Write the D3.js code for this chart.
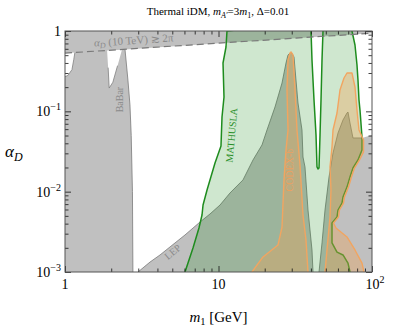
<!DOCTYPE html>
<html>
<head>
<meta charset="utf-8">
<script src="https://cdn.jsdelivr.net/npm/d3@7"></script>
<style>
body { margin: 0; background: #fff; }
svg text { font-family: "Liberation Serif", "DejaVu Serif", serif; }
</style>
</head>
<body>
<div id="vis"></div>
<script>
// ---- data (m1 in GeV, alpha_D) ----
const xMajor = [1, 10, 100];
const xLabels = [['1', ''], ['10', ''], ['10', '2']];
const yMajor = [1, 0.1, 0.01, 0.001];
const yLabels = [['1', ''], ['10', '\u22121'], ['10', '\u22122'], ['10', '\u22123']];

// alpha_D(10 TeV) >= 2pi (dashed)
const pertM = [1, 100];
const pertA = [0.53, 0.94];

// BaBar edge, top to bottom
const babarM = [2.46, 2.57, 2.65, 2.7, 2.75, 2.77];
const babarA = [0.59, 0.245, 0.12, 0.05, 0.01, 0.001];

// small allowed gaps inside BaBar
const notch1M = [1, 1.16, 1.14, 1.11, 1.045, 1];
const notch1A = [0.53, 0.54, 0.44, 0.33, 0.28, 0.27];
const notch2M = [1.88, 1.91, 1.94, 2.05, 2.2, 2.35];
const notch2A = [0.57, 0.35, 0.195, 0.23, 0.37, 0.585];

// LEP + resonance peak edge, left to right
const lepM = [2.99, 3.58, 4.16, 4.83, 6.05, 7.58, 8.8, 10.23, 11.88, 14.44, 16.78, 19.2, 20.7, 23.34, 25.93, 27.53, 28.37, 29.68, 31.04, 31.98, 32.95, 34.99, 35.52, 36.6, 38.29, 40.65, 41.27];
const lepA = [0.001, 0.00133, 0.00163, 0.00205, 0.00289, 0.00419, 0.00527, 0.00682, 0.00962, 0.014, 0.0248, 0.0381, 0.0586, 0.1132, 0.2253, 0.3996, 0.503, 0.548, 0.4746, 0.2455, 0.127, 0.0586, 0.027, 0.0203, 0.00591, 0.00188, 0.001];

// right excluded region edge, left to right
const rightM = [45.16, 47.24, 49.41, 52.48, 55.71, 60.05, 64.72, 68.71, 69.75, 71.88, 75.18, 86.07, 100];
const rightA = [0.001, 0.0023, 0.00591, 0.0152, 0.0303, 0.0537, 0.078, 0.0953, 0.0981, 0.0716, 0.0466, 0.0466, 0.0507];

// MATHUSLA reach
const mathM = [11.36, 11.19, 10.7, 10.86, 10.54, 10.38, 9.49, 8.42, 7.93, 7.81, 7.46, 6.82, 6.05, 6.0,
  72.5, 71.88, 69.75, 64.72, 59.16, 54.88, 54.88, 59.16, 60.05, 63.75, 64.72, 68.71, 71.88, 75.18, 81.04, 86.07, 86.07, 83.51, 82.27, 81.04, 79.84, 77.48, 74.06, 73.2,
  48.2, 47.95, 47.24, 46.54, 45.85, 45.16, 44.49, 43.83, 43.18, 41.9, 40.65, 40.06, 39.9];
const mathA = [1, 0.632, 0.3996, 0.1508, 0.085, 0.037, 0.0227, 0.0105, 0.00682, 0.00512, 0.00353, 0.00199, 0.001, 0.0008,
  0.0008, 0.001, 0.00129, 0.00163, 0.00177, 0.0023, 0.00407, 0.00484, 0.00591, 0.00722, 0.00858, 0.0114, 0.0152, 0.0197, 0.0248, 0.033, 0.0479, 0.1039, 0.1384, 0.2455, 0.3773, 0.669, 1, 1.3,
  1.3, 1, 0.4355, 0.1384, 0.0507, 0.0197, 0.0192, 0.0203, 0.0507, 0.1384, 0.4355, 1, 1.3];

// CODEX-b reach, two pieces
const codexLM = [16.0, 16.53, 19.5, 24.42, 25.93, 26.71, 27.53, 28.37, 27.94, 28.37, 29.23, 29.68, 30.58, 31.51, 32.46, 33.96, 35.52, 37.15, 38.29, 38.6];
const codexLA = [0.0008, 0.001, 0.00154, 0.00217, 0.00363, 0.014, 0.033, 0.0586, 0.1843, 0.4355, 0.532, 0.548, 0.503, 0.1843, 0.0586, 0.0215, 0.00512, 0.0025, 0.001, 0.0008];
const codexRM = [49.2, 49.41, 50.91, 53.26, 54.06, 53.26, 54.88, 55.71, 59.16, 61.87, 65.7, 68.71, 74.06, 77.48, 79.84, 82.27, 88.08, 88.08, 82.9, 76.9, 73.5, 70.3, 66.2, 65.2, 61.4, 60.5, 56.1, 58.28, 68.71, 77.48, 86.07, 88.69, 89.5];
const codexRA = [0.0008, 0.001, 0.00188, 0.00484, 0.0105, 0.0203, 0.036, 0.0586, 0.0953, 0.1843, 0.26, 0.3, 0.3, 0.2009, 0.1039, 0.0586, 0.044, 0.0312, 0.0248, 0.0197, 0.0152, 0.0114, 0.00858, 0.00722, 0.00591, 0.00484, 0.00407, 0.00353, 0.00273, 0.00188, 0.00129, 0.001, 0.0008];

// ---- layout ----
const margin = {top: 31, right: 27, bottom: 55, left: 65};
const width = 399 - margin.left - margin.right;
const height = 327 - margin.top - margin.bottom;

const svgRoot = d3.select('#vis').append('svg')
  .attr('width', 399).attr('height', 327);
const svg = svgRoot.append('g')
  .attr('transform', `translate(${margin.left},${margin.top})`);

const x = d3.scaleLog().domain([1, 100]).range([0, width]);
const y = d3.scaleLog().domain([0.001, 1]).range([height, 0]);

const pts = (ms, as) => ms.map((m, i) => [m, as[i]]);
const line = d3.line().x(d => x(d[0])).y(d => y(d[1]));
const area = arr => line(arr) + 'Z';

svg.append('clipPath').attr('id', 'clip')
  .append('rect').attr('width', width).attr('height', height);
const plot = svg.append('g').attr('clip-path', 'url(#clip)');

// excluded background
plot.append('rect').attr('width', width).attr('height', height).attr('fill', '#c0c0c0');

// allowed (white) region
const pert = pts(pertM, pertA);
const babar = pts(babarM, babarA);
const lep = pts(lepM, lepA);
const right = pts(rightM, rightA);
const allowed = [babar[0], pert[1]]
  .concat(right.slice().reverse())
  .concat(lep.slice().reverse())
  .concat(babar.slice().reverse());
plot.append('path').attr('d', area(allowed)).attr('fill', '#fff');
[pts(notch1M, notch1A), pts(notch2M, notch2A)].forEach(n => {
  plot.append('path').attr('d', area(n)).attr('fill', '#fff');
  plot.append('path').attr('d', line(n.slice(1, n.length - (n[0][0] === 1 ? 0 : 1))))
    .attr('fill', 'none').attr('stroke', '#808080').attr('stroke-width', 0.8);
});
[babar, lep, right.slice(0, -1)].forEach(e => {
  plot.append('path').attr('d', line(e))
    .attr('fill', 'none').attr('stroke', '#7a7a7a').attr('stroke-width', 0.8);
});

// MATHUSLA
plot.append('path').attr('d', area(pts(mathM, mathA)))
  .attr('fill', '#008000').attr('fill-opacity', 0.19)
  .attr('stroke', '#1e8c1e').attr('stroke-width', 1.5).attr('stroke-linejoin', 'round');

// CODEX-b
[pts(codexLM, codexLA), pts(codexRM, codexRA)].forEach(c => {
  plot.append('path').attr('d', area(c))
    .attr('fill', '#f0a050').attr('fill-opacity', 0.35)
    .attr('stroke', '#f2a560').attr('stroke-width', 1.4).attr('stroke-linejoin', 'round');
});

// perturbativity dashed line
plot.append('path').attr('d', line(pert))
  .attr('fill', 'none').attr('stroke', '#7a7a7a').attr('stroke-width', 1.2)
  .attr('stroke-dasharray', '7,4');

// ---- region labels ----
const ang = Math.atan2(y(pertA[1]) - y(pertA[0]), x(pertM[1]) - x(pertM[0])) * 180 / Math.PI;
const pl = svg.append('text')
  .attr('transform', `translate(${x(1.55)},${y(0.64)}) rotate(${ang})`)
  .attr('fill', '#8a8a8a').attr('font-size', 11);
pl.append('tspan').attr('font-style', 'italic').text('\u03b1');
pl.append('tspan').attr('font-style', 'italic').attr('font-size', 8).attr('dy', 2).text('D');
pl.append('tspan').attr('dy', -2).text(' (10 TeV) \u2273 2\u03c0');

svg.append('text')
  .attr('transform', `translate(${x(2.38)},${y(0.14)}) rotate(-90)`)
  .attr('text-anchor', 'middle').attr('fill', '#8a8a8a').attr('font-size', 10)
  .text('BaBar');

svg.append('text')
  .attr('transform', `translate(${x(5.2)},${y(0.00165)}) rotate(-40)`)
  .attr('text-anchor', 'middle').attr('fill', '#8a8a8a').attr('font-size', 10)
  .text('LEP');

svg.append('text')
  .attr('transform', `translate(${x(12.8)},${y(0.05)}) rotate(-85)`)
  .attr('text-anchor', 'middle').attr('fill', '#2a8f2a').attr('font-size', 10)
  .text('MATHUSLA');

svg.append('text')
  .attr('transform', `translate(${x(30.6)},${y(0.0186)}) rotate(-90)`)
  .attr('text-anchor', 'middle').attr('fill', '#eba062').attr('font-size', 10)
  .text('CODEX-b');

// ---- frame and ticks ----
const xMinor = [2, 3, 4, 5, 6, 7, 8, 9, 20, 30, 40, 50, 60, 70, 80, 90];
const yMinor = [];
[0.001, 0.01, 0.1].forEach(d => { for (let k = 2; k <= 9; k++) yMinor.push(d * k); });

function ticks(axisFn, vals, size, tr) {
  const g = svg.append('g').attr('transform', tr)
    .call(axisFn.tickValues(vals).tickSize(size).tickFormat(''));
  g.select('.domain').remove();
  g.selectAll('line').attr('stroke', '#111').attr('stroke-width', 0.8);
}
ticks(d3.axisBottom(x), xMajor, -6, `translate(0,${height})`);
ticks(d3.axisBottom(x), xMinor, -3.5, `translate(0,${height})`);
ticks(d3.axisTop(x), xMajor, -6, 'translate(0,0)');
ticks(d3.axisTop(x), xMinor, -3.5, 'translate(0,0)');
ticks(d3.axisLeft(y), yMajor, -6, 'translate(0,0)');
ticks(d3.axisLeft(y), yMinor, -3.5, 'translate(0,0)');
ticks(d3.axisRight(y), yMajor, -6, `translate(${width},0)`);
ticks(d3.axisRight(y), yMinor, -3.5, `translate(${width},0)`);

svg.append('rect').attr('width', width).attr('height', height)
  .attr('fill', 'none').attr('stroke', '#555').attr('stroke-width', 1);

// tick labels
xMajor.forEach((v, i) => {
  const t = svg.append('text').attr('x', x(v) + (i === 2 ? 3 : 0)).attr('y', height + 17)
    .attr('text-anchor', 'middle').attr('font-size', 14);
  t.append('tspan').text(xLabels[i][0]);
  if (xLabels[i][1]) t.append('tspan').attr('font-size', 10).attr('dy', -6).text(xLabels[i][1]);
});
yMajor.forEach((v, i) => {
  const t = svg.append('text').attr('x', -4).attr('y', y(v) + 5)
    .attr('text-anchor', 'end').attr('font-size', 14);
  t.append('tspan').text(yLabels[i][0]);
  if (yLabels[i][1]) t.append('tspan').attr('font-size', 10).attr('dy', -6).text(yLabels[i][1]);
});

// axis titles
const xt = svg.append('text').attr('x', width / 2 + 0).attr('y', height + 50)
  .attr('text-anchor', 'middle').attr('font-size', 15);
xt.append('tspan').attr('font-style', 'italic').text('m');
xt.append('tspan').attr('font-size', 10.5).attr('dy', 3).text('1');
xt.append('tspan').attr('dy', -3).text(' [GeV]');

const yt = svg.append('text').attr('x', -60).attr('y', height / 2 + 5)
  .attr('font-size', 17);
yt.append('tspan').attr('font-style', 'italic').text('\u03b1');
yt.append('tspan').attr('font-style', 'italic').attr('font-size', 12).attr('dy', 4).text('D');

// title
const tt = svgRoot.append('text').attr('x', 218).attr('y', 15)
  .attr('text-anchor', 'middle').attr('font-size', 11);
tt.append('tspan').text('Thermal iDM, ');
tt.append('tspan').attr('font-style', 'italic').text('m');
tt.append('tspan').attr('font-style', 'italic').attr('font-size', 8).attr('dy', 2.5).text('A\u2032');
tt.append('tspan').attr('dy', -2.5).text('=3');
tt.append('tspan').attr('font-style', 'italic').text('m');
tt.append('tspan').attr('font-size', 8).attr('dy', 2.5).text('1');
tt.append('tspan').attr('dy', -2.5).text(', \u0394=0.01');
</script>
</body>
</html>
